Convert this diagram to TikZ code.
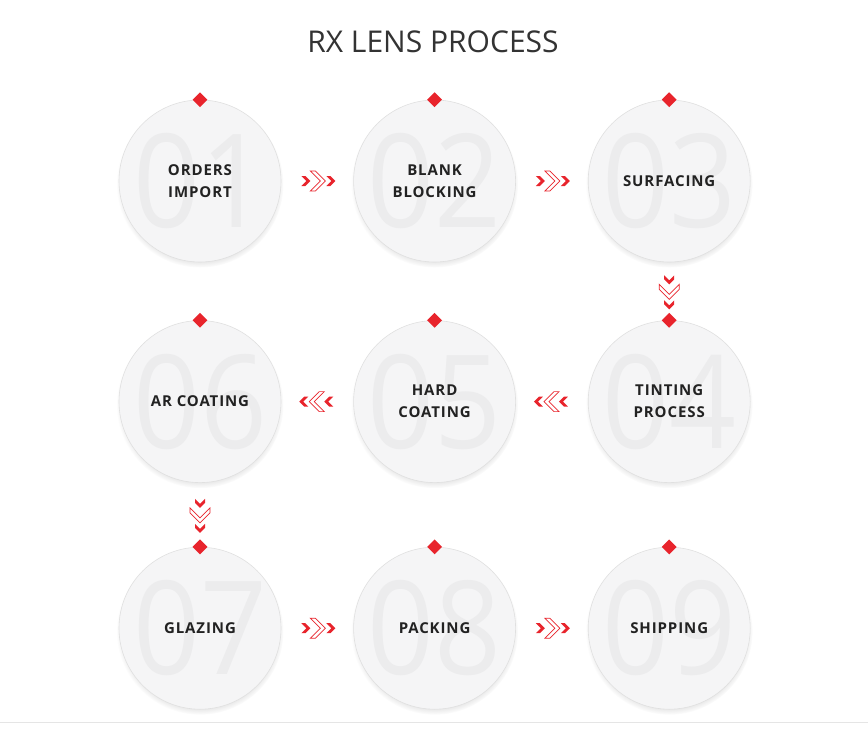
\documentclass[tikz,border=0pt]{standalone}
\usepackage{fontspec}
\setmainfont{Open Sans}
\usepackage{xcolor}
\usetikzlibrary{shapes.geometric, positioning, calc, shadows}

\definecolor{lensred}{HTML}{E8242C}
\definecolor{discgray}{HTML}{F5F5F6}
\definecolor{numgray}{HTML}{ECECED}
\definecolor{inkdark}{HTML}{222222}

\begin{document}
\begin{tikzpicture}[
    x=1pt, y=1pt,
    node distance=58pt and 72pt,
    disc/.style={draw=black!12, line width=0.6pt, circle, minimum size=162pt, inner sep=0pt, fill=discgray,
        circular drop shadow={shadow scale=1.03, shadow xshift=0pt, shadow yshift=-3pt, opacity=0.35}},
    bignum/.style={text=numgray, font=\fontsize{130}{130}\selectfont, xscale=0.9},
    steptext/.style={align=center, text=inkdark, font=\fontsize{15}{22}\selectfont\bfseries\addfontfeatures{LetterSpace=6}},
    marker/.style={diamond, fill=lensred, minimum size=15pt, inner sep=0pt},
    chevs/.pic={
        \fill[lensred] (-16,5) -- (-12,5) -- (-7,0) -- (-12,-5) -- (-16,-5) -- (-11,0) -- cycle;
        \filldraw[draw=lensred, fill=white, line width=0.7pt, line join=miter] (-7,10) -- (-2,10) -- (8,0) -- (-2,-10) -- (-7,-10) -- (3,0) -- cycle;
        \fill[lensred] (9,5) -- (13,5) -- (18,0) -- (13,-5) -- (9,-5) -- (14,0) -- cycle;
    }
]
\fill[white] (0,0) rectangle (868,-731);
\useasboundingbox (0,0) rectangle (868,-731);

\node (title) [font=\fontsize{30}{36}\selectfont, text=black!80] at (433,-42) {RX LENS PROCESS};

% the nine steps
\node (s1) [disc] at (200,-181) {};
\node (s2) [disc, right=of s1] {};
\node (s3) [disc, right=of s2] {};
\node (s4) [disc, below=of s3] {};
\node (s5) [disc, left=of s4] {};
\node (s6) [disc, left=of s5] {};
\node (s7) [disc, below=64pt of s6] {};
\node (s8) [disc, right=of s7] {};
\node (s9) [disc, right=of s8] {};

\foreach \n in {1,...,9} \node [bignum] at (s\n) {0\n};

\node [steptext] at (s1) {ORDERS\\IMPORT};
\node [steptext] at (s2) {BLANK\\BLOCKING};
\node [steptext] at (s3) {SURFACING};
\node [steptext] at (s4) {TINTING\\PROCESS};
\node [steptext] at (s5) {HARD\\COATING};
\node [steptext] at (s6) {AR COATING};
\node [steptext] at (s7) {GLAZING};
\node [steptext] at (s8) {PACKING};
\node [steptext] at (s9) {SHIPPING};

\foreach \n in {1,...,9} \node [marker] at (s\n.north) {};

% chevrons between steps
\pic at ($(s1)!0.5!(s2)$) {chevs};
\pic at ($(s2)!0.5!(s3)$) {chevs};
\pic [rotate=-90] at ($(s3)!0.5!(s4)$) {chevs};
\pic [rotate=180] at ($(s4)!0.5!(s5)$) {chevs};
\pic [rotate=180] at ($(s5)!0.5!(s6)$) {chevs};
\pic [rotate=-90] at ($(s6)!0.5!(s7)$) {chevs};
\pic at ($(s7)!0.5!(s8)$) {chevs};
\pic at ($(s8)!0.5!(s9)$) {chevs};

\draw[black!10, line width=1pt] (0,-722) -- (868,-722);
\end{tikzpicture}
\end{document}
